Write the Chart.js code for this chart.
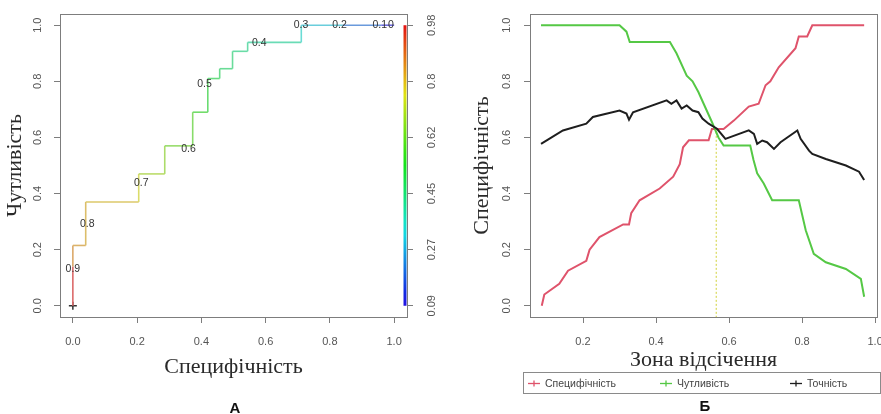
<!DOCTYPE html>
<html><head><meta charset="utf-8">
<script src="https://cdn.jsdelivr.net/npm/chart.js@4.4.0/dist/chart.umd.min.js"></script>
<style>
html,body{margin:0;padding:0;background:#fff;width:881px;height:414px;overflow:hidden;position:relative}
#wrapA{position:absolute;left:0;top:0;width:440px;height:414px}
#wrapB{position:absolute;left:440px;top:0;width:441px;height:414px}
.panel{position:absolute;font:bold 15px "Liberation Sans",Arial,sans-serif;color:#111;transform:translate(-50%,-50%)}
</style></head><body>
<div id="wrapA"><canvas id="cA" width="440" height="414"></canvas></div>
<div id="wrapB"><canvas id="cB" width="441" height="414"></canvas></div>
<div class="panel" style="left:235px;top:407px">А</div>
<div class="panel" style="left:705px;top:405px">Б</div>
<script>
// ---------- Panel A: ROC curve (colorized by cutoff) ----------
const rocFpr    = [0, 0, 0, 0.04, 0.04, 0.205, 0.205, 0.286, 0.286, 0.373, 0.373, 0.42, 0.42, 0.457, 0.457, 0.497, 0.497, 0.544, 0.544, 0.711, 0.711, 0.84, 0.96, 1.0];
const rocTpr    = [0, 0.14, 0.215, 0.215, 0.37, 0.37, 0.47, 0.47, 0.57, 0.57, 0.69, 0.69, 0.81, 0.81, 0.845, 0.845, 0.907, 0.907, 0.939, 0.939, 1.0, 1.0, 1.0, 1.0];
const rocCutoff = [0.98, 0.86, 0.84, 0.82, 0.8, 0.76, 0.7, 0.67, 0.63, 0.6, 0.56, 0.53, 0.5, 0.48, 0.46, 0.45, 0.43, 0.42, 0.4, 0.34, 0.3, 0.2, 0.1, 0.09];
const cutoffLabels = ['0.9', '0.8', '0.7', '0.6', '0.5', '0.4', '0.3', '0.2', '0.1', '0'];
const cutoffLabelX = [0.0, 0.045, 0.213, 0.36, 0.41, 0.58, 0.71, 0.83, 0.955, 0.99];
const cutoffLabelY = [0.13, 0.29, 0.436, 0.56, 0.79, 0.935, 1.0, 1.0, 1.0, 1.0];
const rocTicks = [0, 0.2, 0.4, 0.6, 0.8, 1.0];
const colorKeyTicks  = [0.09, 0.268, 0.446, 0.624, 0.802, 0.98];
const colorKeyLabels = ['0.09', '0.27', '0.45', '0.62', '0.8', '0.98'];

// ---------- Panel B: measures vs cutoff ----------
const specX = [0.087,0.094,0.135,0.159,0.209,0.218,0.245,0.31,0.326,0.332,0.355,0.41,0.447,0.465,0.474,0.49,0.527,0.544,0.553,0.585,0.613,0.654,0.681,0.70,0.713,0.736,0.782,0.791,0.814,0.828,0.97];
const specY = [0.0,0.04,0.078,0.125,0.16,0.20,0.245,0.29,0.29,0.33,0.376,0.418,0.46,0.505,0.565,0.59,0.59,0.59,0.63,0.63,0.66,0.71,0.72,0.786,0.80,0.85,0.918,0.96,0.96,1.0,1.0];
const sensX = [0.085,0.30,0.319,0.328,0.438,0.456,0.484,0.50,0.516,0.527,0.553,0.571,0.585,0.658,0.667,0.677,0.695,0.718,0.791,0.81,0.832,0.865,0.92,0.961,0.97];
const sensY = [1.0,1.0,0.977,0.94,0.94,0.90,0.82,0.80,0.762,0.73,0.655,0.60,0.571,0.571,0.52,0.472,0.436,0.376,0.376,0.269,0.185,0.155,0.131,0.096,0.032];
const accX  = [0.085,0.145,0.209,0.227,0.30,0.319,0.326,0.337,0.429,0.442,0.456,0.47,0.484,0.50,0.516,0.527,0.544,0.567,0.59,0.654,0.668,0.677,0.691,0.704,0.723,0.741,0.787,0.796,0.819,0.828,0.865,0.92,0.956,0.97];
const accY  = [0.577,0.625,0.649,0.673,0.696,0.685,0.663,0.69,0.732,0.72,0.732,0.703,0.714,0.696,0.69,0.667,0.649,0.631,0.595,0.625,0.613,0.577,0.589,0.583,0.559,0.583,0.625,0.595,0.553,0.541,0.523,0.50,0.478,0.448];
const seriesNames = ['Специфічність', 'Чутливість', 'Точність'];
const optimalCutoff = 0.565;
const optimalValue  = 0.62;
const cutTicks = [0.2, 0.4, 0.6, 0.8, 1.0];
const measureTicks = [0, 0.2, 0.4, 0.6, 0.8, 1.0];

// ---------- helpers ----------
const AXIS = '#7d7d7d';
const tickFont  = {family: '"Liberation Sans", Arial, sans-serif', size: 11};
const titleFontFamily = '"Liberation Serif", "Times New Roman", serif';
const xy = (xs, ys) => xs.map((x, i) => ({x, y: ys[i]}));
const fixedTicks = vals => s => { s.ticks = vals.map(v => ({value: v})); };
function rampColor(t, light, sat) {
  const f = Math.min(1, Math.max(0, (t - colorKeyTicks[0]) / (colorKeyTicks[5] - colorKeyTicks[0])));
  const h = 245 * (1 - f);
  return `hsl(${h.toFixed(1)},${sat}%,${light}%)`;
}
function hAxis(opts) {
  return Object.assign({
    type: 'linear',
    grid: {drawOnChartArea: false, drawTicks: true, tickLength: 6, color: AXIS, lineWidth: 1},
    border: {display: false},
  }, opts);
}
const framePlugin = {
  id: 'frame',
  afterDatasetsDraw(chart) {
    const {ctx, chartArea: a} = chart;
    ctx.save();
    ctx.strokeStyle = AXIS; ctx.lineWidth = 1;
    ctx.strokeRect(Math.round(a.left) + 0.5, Math.round(a.top) + 0.5, Math.round(a.right - a.left), Math.round(a.bottom - a.top));
    ctx.restore();
  }
};
const colorKeyPlugin = {
  id: 'colorKey',
  afterDatasetsDraw(chart) {
    const {ctx, chartArea: a, scales} = chart;
    const s = scales.y2;
    const top = s.getPixelForValue(colorKeyTicks[5]);
    const bot = s.getPixelForValue(colorKeyTicks[0]);
    const g = ctx.createLinearGradient(0, bot, 0, top);
    for (let k = 0; k <= 20; k++) {
      const t = colorKeyTicks[0] + (colorKeyTicks[5] - colorKeyTicks[0]) * k / 20;
      g.addColorStop(k / 20, rampColor(t, 48, 85));
    }
    ctx.save();
    ctx.fillStyle = g;
    ctx.fillRect(a.right - 3.5, top, 3, bot - top);
    ctx.restore();
  }
};
const cutoffTextPlugin = {
  id: 'cutoffText',
  afterDatasetsDraw(chart) {
    const {ctx, scales: {x, y}} = chart;
    ctx.save();
    ctx.font = '10.5px "Liberation Sans", Arial, sans-serif';
    ctx.fillStyle = '#333';
    ctx.textAlign = 'center'; ctx.textBaseline = 'middle';
    cutoffLabels.forEach((lab, i) => {
      ctx.fillText(lab, x.getPixelForValue(cutoffLabelX[i]), y.getPixelForValue(cutoffLabelY[i]));
    });
    ctx.restore();
  }
};
const boxLegendPlugin = {
  id: 'boxLegend',
  afterDraw(chart) {
    const {ctx} = chart;
    const box = {l: 83.5, t: 372.5, r: 440.5, b: 393.5};
    const itemX = [88, 220, 350];
    const cy = 383.5;
    ctx.save();
    ctx.strokeStyle = '#8a8a8a'; ctx.lineWidth = 1;
    ctx.strokeRect(box.l, box.t, box.r - box.l, box.b - box.t);
    ctx.font = '10.5px "Liberation Sans", Arial, sans-serif';
    ctx.textAlign = 'left'; ctx.textBaseline = 'middle';
    for (let i = 0; i < 3; i++) {
      const ds = chart.data.datasets[i];
      const x0 = itemX[i];
      ctx.strokeStyle = ds.borderColor; ctx.lineWidth = 1.3;
      ctx.beginPath(); ctx.moveTo(x0, cy); ctx.lineTo(x0 + 12, cy); ctx.stroke();
      ctx.beginPath(); ctx.moveTo(x0 + 6, cy - 3); ctx.lineTo(x0 + 6, cy + 3); ctx.stroke();
      ctx.fillStyle = '#444';
      ctx.fillText(ds.label, x0 + 17, cy + 1);
    }
    ctx.restore();
  }
};

Chart.defaults.font.family = '"Liberation Sans", Arial, sans-serif';

// ---------- Chart A ----------
new Chart(document.getElementById('cA'), {
  type: 'line',
  data: {
    datasets: [
      {
        label: 'ROC',
        data: xy(rocFpr, rocTpr),
        borderWidth: 1.6, pointRadius: 0, tension: 0, borderColor: '#888',
        segment: {borderColor: c => rampColor(rocCutoff[c.p0DataIndex], 64, 62)}
      },
      {
        label: 'start',
        data: [{x: rocFpr[0], y: rocTpr[0]}],
        showLine: false, pointStyle: 'cross', pointRadius: 4, borderColor: '#333', borderWidth: 1.5
      }
    ]
  },
  options: {
    responsive: false, animation: false,
    layout: {padding: {top: 14, left: 0, right: 0, bottom: 0}},
    plugins: {legend: {display: false}, tooltip: {enabled: false}},
    scales: {
      x: hAxis({
        position: 'bottom', min: -0.04, max: 1.04,
        afterBuildTicks: fixedTicks(rocTicks),
        ticks: {font: tickFont, color: '#555', padding: 12, maxRotation: 0, autoSkip: false, callback: v => v.toFixed(1)},
        title: {display: true, text: 'Специфічність', color: '#2a2a2a', font: {family: titleFontFamily, size: 22}, padding: {top: 0, bottom: 34}},
        afterFit: s => { s.height = 97; s.paddingLeft = 0; s.paddingRight = 0; }
      }),
      y: hAxis({
        position: 'left', min: -0.04, max: 1.04,
        afterBuildTicks: fixedTicks(rocTicks),
        ticks: {font: tickFont, color: '#555', padding: 8, minRotation: 90, maxRotation: 90, crossAlign: 'center', autoSkip: false, callback: v => v.toFixed(1)},
        title: {display: true, text: 'Чутливість', color: '#2a2a2a', font: {family: titleFontFamily, size: 22}, padding: {top: 2, bottom: 0}},
        afterFit: s => { s.width = 60; s.paddingTop = 0; s.paddingBottom = 0; }
      }),
      y2: hAxis({
        position: 'right',
        min: colorKeyTicks[0] - 0.04 * (colorKeyTicks[5] - colorKeyTicks[0]),
        max: colorKeyTicks[5] + 0.04 * (colorKeyTicks[5] - colorKeyTicks[0]),
        afterBuildTicks: fixedTicks(colorKeyTicks),
        ticks: {font: tickFont, color: '#555', padding: 8, minRotation: 90, maxRotation: 90, crossAlign: 'center', autoSkip: false, callback: (v, i) => colorKeyLabels[i]},
        afterFit: s => { s.width = 33; s.paddingTop = 0; s.paddingBottom = 0; }
      })
    }
  },
  plugins: [framePlugin, colorKeyPlugin, cutoffTextPlugin]
});

// ---------- Chart B ----------
new Chart(document.getElementById('cB'), {
  type: 'line',
  data: {
    datasets: [
      {label: seriesNames[0], data: xy(specX, specY), borderColor: '#DF536B', borderWidth: 2, pointRadius: 0, tension: 0, order: 2},
      {label: seriesNames[1], data: xy(sensX, sensY), borderColor: '#55C845', borderWidth: 2, pointRadius: 0, tension: 0, order: 1},
      {label: seriesNames[2], data: xy(accX, accY), borderColor: '#1e1e1e', borderWidth: 2, pointRadius: 0, tension: 0, order: 0},
      {label: 'cutoff', data: [{x: optimalCutoff, y: optimalValue}, {x: optimalCutoff, y: -0.04}],
       borderColor: '#dcdc66', borderWidth: 1.3, borderDash: [2, 2], pointRadius: 0, order: 3}
    ]
  },
  options: {
    responsive: false, animation: false,
    layout: {padding: {top: 14, left: 0, right: 4, bottom: 0}},
    plugins: {legend: {display: false}, tooltip: {enabled: false}},
    scales: {
      x: hAxis({
        position: 'bottom', min: 0.0548, max: 1.0052,
        afterBuildTicks: fixedTicks(cutTicks),
        ticks: {font: tickFont, color: '#555', padding: 12, maxRotation: 0, autoSkip: false, callback: v => v.toFixed(1)},
        title: {display: true, text: 'Зона відсічення', color: '#2a2a2a', font: {family: titleFontFamily, size: 22}, padding: {top: 0, bottom: 41}},
        afterFit: s => { s.height = 97; s.paddingLeft = 0; s.paddingRight = 0; }
      }),
      y: hAxis({
        position: 'left', min: -0.04, max: 1.04,
        afterBuildTicks: fixedTicks(measureTicks),
        ticks: {font: tickFont, color: '#555', padding: 9, minRotation: 90, maxRotation: 90, crossAlign: 'center', autoSkip: false, callback: v => v.toFixed(1)},
        title: {display: true, text: 'Специфічність', color: '#2a2a2a', font: {family: titleFontFamily, size: 22}, padding: {top: 29, bottom: 0}},
        afterFit: s => { s.width = 90; s.paddingTop = 0; s.paddingBottom = 0; }
      })
    }
  },
  plugins: [framePlugin, boxLegendPlugin]
});
</script>
</body></html>
